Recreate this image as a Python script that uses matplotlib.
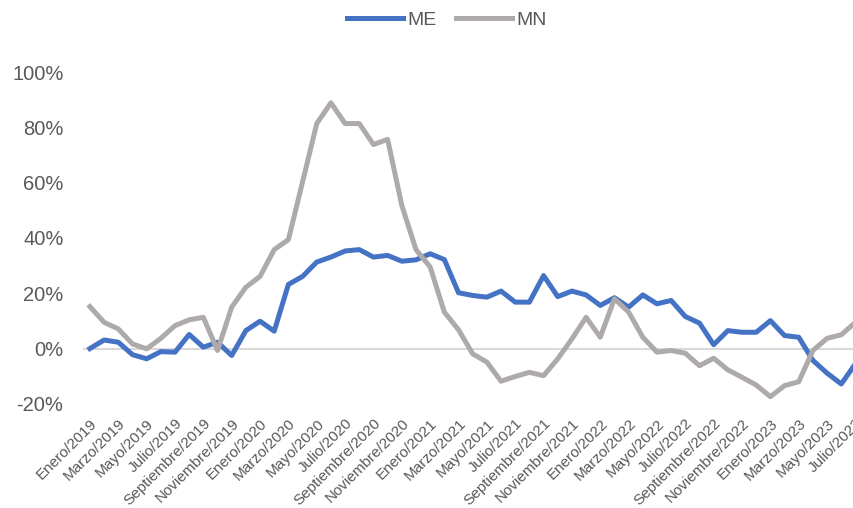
import matplotlib.pyplot as plt
from matplotlib.ticker import FuncFormatter

plt.rcParams['font.family'] = ['Liberation Sans', 'DejaVu Sans']

meses = ["Enero", "Febrero", "Marzo", "Abril", "Mayo", "Junio", "Julio",
         "Agosto", "Septiembre", "Octubre", "Noviembre", "Diciembre"]
fechas = [f"{m}/{a}" for a in range(2019, 2024) for m in meses][:55]

# variación interanual (%)
me = [0.0, 3.1, 2.3, -2.2, -3.7, -1.1, -1.3, 5.1, 0.5, 2.3,
      -2.5, 6.5, 9.9, 6.3, 23.2, 26.1, 31.3, 33.1, 35.3, 35.8,
      33.1, 33.7, 31.6, 32.1, 34.3, 32.2, 20.2, 19.2, 18.6, 20.8,
      16.8, 16.8, 26.4, 18.8, 20.8, 19.4, 15.6, 18.4, 15.0, 19.4,
      16.2, 17.4, 11.6, 9.2, 1.4, 6.5, 5.9, 5.9, 10.1, 4.7,
      4.1, -4.3, -8.9, -12.8, -5.5]
mn = [15.2, 9.5, 7.1, 1.7, -0.1, 3.7, 8.3, 10.4, 11.3, -0.7,
      15.0, 22.2, 26.1, 35.8, 39.4, 60.3, 81.4, 88.9, 81.4, 81.4,
      73.8, 75.7, 51.8, 35.8, 29.5, 13.2, 6.8, -1.9, -4.9, -11.8,
      -10.1, -8.6, -9.8, -3.7, 3.5, 11.3, 4.1, 18.0, 13.2, 4.1,
      -1.3, -0.7, -1.7, -6.2, -3.5, -7.7, -10.4, -13.2, -17.4, -13.4,
      -12.0, -0.7, 3.7, 5.0, 9.5]

fig = plt.figure(figsize=(8.54, 5.08), dpi=100)
ax = fig.add_axes([0.097, 0.205, 0.913, 0.653])

x = range(len(fechas))
ax.axhline(0, color="#D9D9D9", lw=1.5, zorder=1)
ax.plot(x, [v / 100 for v in me], color="#4472C4", lw=3.6, label="ME", zorder=3,
        solid_joinstyle="round")
ax.plot(x, [v / 100 for v in mn], color="#AEAAAA", lw=3.6, label="MN", zorder=4,
        solid_joinstyle="round")

ax.set_xlim(-0.5, len(fechas) - 0.5)
ax.set_ylim(-0.2, 1.0)
ax.set_yticks([-0.2, 0, 0.2, 0.4, 0.6, 0.8, 1.0])
ax.yaxis.set_major_formatter(FuncFormatter(lambda v, p: f"{v:.0%}"))
ax.set_xticks(list(x)[::2])
ax.set_xticklabels(fechas[::2], rotation=45, ha="right", va="top",
                   rotation_mode="anchor")
ax.tick_params(axis="y", length=0, labelsize=14.5, labelcolor="#595959", pad=14)
ax.tick_params(axis="x", length=0, labelsize=11, labelcolor="#595959", pad=9)
for s in ax.spines.values():
    s.set_visible(False)

ax.legend(loc="upper center", bbox_to_anchor=(0.523, 1.012), bbox_transform=fig.transFigure,
          ncol=2, frameon=False, fontsize=14, labelcolor="#595959",
          handlelength=2.9, handletextpad=0.2, columnspacing=1.0)

fig.savefig("out.png", dpi=100)
